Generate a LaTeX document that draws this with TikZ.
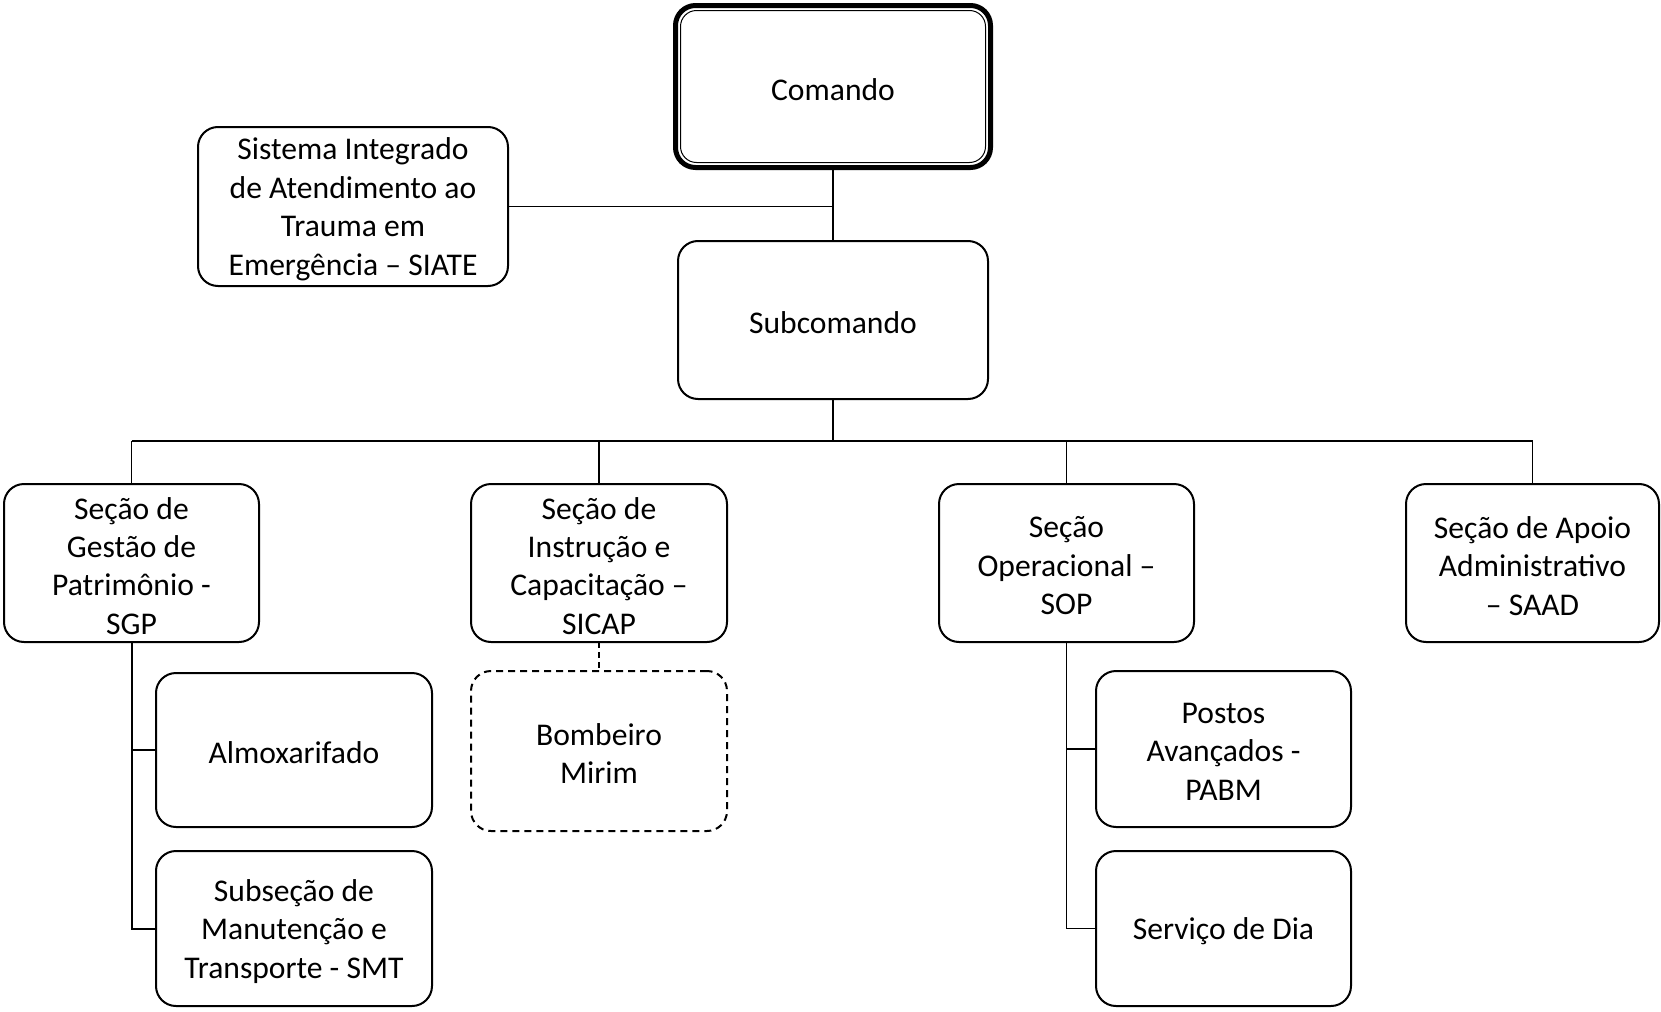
\documentclass[tikz,border=0pt]{standalone}
\usepackage{fontspec}
\setmainfont{Carlito}
\begin{document}
\begin{tikzpicture}[x=0.5pt,y=-0.5pt,
  every node/.style={inner sep=0pt,outer sep=0pt},
  lbl/.style={align=center,yshift=-1.4pt,font=\fontsize{15.8pt}{19.2pt}\selectfont},
  bx/.style={draw,line width=1pt,rounded corners=10pt,fill=white},
  dbx/.style={bx,dash pattern=on 3.5pt off 2.5pt},
  conn/.style={line width=0.6pt},
  thk/.style={line width=1pt}]
\useasboundingbox (0,0) rectangle (1661,1012);
% nodes
\node[bx,line width=2.5pt,minimum width=157.5pt,minimum height=81pt,label={[lbl]center:Comando}] (com) at (833,86.5) {};
\draw[line width=0.5pt,rounded corners=8pt] ([shift={(5,-5)}]com.south west) rectangle ([shift={(-5,5)}]com.north east);
\node[bx,minimum width=155pt,minimum height=79.5pt,label={[lbl]center:{Sistema Integrado\\de Atendimento ao\\Trauma em\\Emergência – SIATE}}] (siate) at (353,206.5) {};
\node[bx,minimum width=155pt,minimum height=79pt,label={[lbl]center:Subcomando}] (sub) at (833,320) {};
\node[bx,minimum width=127.5pt,minimum height=79pt,label={[lbl]center:{Seção de\\Gestão de\\Patrimônio -\\SGP}}] (sgp) at (131.5,563) {};
\node[bx,minimum width=128pt,minimum height=79pt,label={[lbl]center:{Seção de\\Instrução e\\Capacitação –\\SICAP}}] (sicap) at (599,563) {};
\node[bx,minimum width=127.5pt,minimum height=79pt,label={[lbl]center:{Seção\\Operacional –\\SOP}}] (sop) at (1066.5,563) {};
\node[bx,minimum width=126.5pt,minimum height=79pt,label={[lbl]center:{Seção de Apoio\\Administrativo\\– SAAD}}] (saad) at (1532.5,563) {};
\node[bx,minimum width=138pt,minimum height=77pt,label={[lbl]center:Almoxarifado}] (almox) at (294,750) {};
\node[bx,minimum width=138pt,minimum height=77.5pt,label={[lbl]center:{Subseção de\\Manutenção e\\Transporte - SMT}}] (smt) at (294,928.5) {};
\node[dbx,minimum width=128pt,minimum height=80pt,label={[lbl]center:{Bombeiro\\Mirim}}] (bomb) at (599,751) {};
\node[bx,minimum width=127.5pt,minimum height=78pt,label={[lbl]center:{Postos\\Avançados -\\PABM}}] (pabm) at (1223.5,749) {};
\node[bx,minimum width=127.5pt,minimum height=77.5pt,label={[lbl]center:Serviço de Dia}] (serv) at (1223.5,928.5) {};
% connectors
\coordinate (bus) at (833,441);
\draw[conn,line width=0.8pt] (com.south) -- (sub.north);
\draw[conn] (siate.east) -- (siate.east -| com.south);
\draw[conn] (sub.south) -- (bus);
\draw[conn] (bus -| sgp.north) -- (bus -| saad.north);
\draw[conn] (bus -| sgp.north) -- (sgp.north);
\draw[conn] (bus -| sicap.north) -- (sicap.north);
\draw[conn] (bus -| sop.north) -- (sop.north);
\draw[conn] (bus -| saad.north) -- (saad.north);
\draw[thk] (sgp.south) |- (almox.west);
\draw[thk] (sgp.south) |- (smt.west);
\draw[conn,dash pattern=on 3pt off 2pt] (sicap.south) -- (bomb.north);
\draw[conn] (sop.south) |- (pabm.west);
\draw[conn] (sop.south) |- (serv.west);
\end{tikzpicture}
\end{document}
